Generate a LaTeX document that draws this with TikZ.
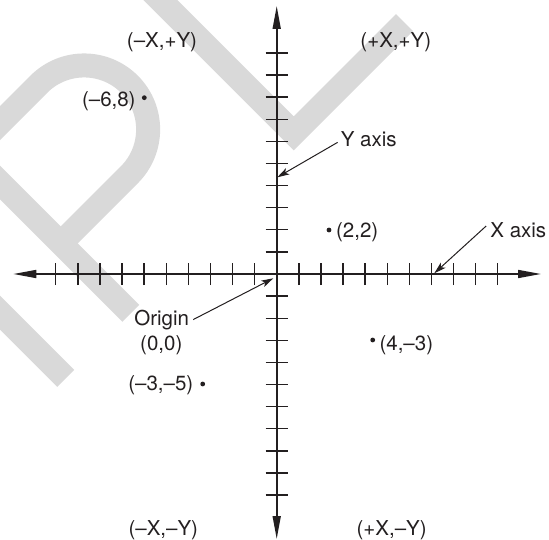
\documentclass[tikz,border=0pt]{standalone}
\usepackage{fontspec}
\setmainfont{TeX Gyre Heros}
\usetikzlibrary{arrows.meta}
\definecolor{ink}{RGB}{35,31,32}
\definecolor{wm}{RGB}{217,217,217}
\begin{document}
\begin{tikzpicture}[x=1pt,y=1pt,
  axisline/.style={ink, line width=1.6pt, {Triangle[length=23pt,width=8pt]}-{Triangle[length=23pt,width=8pt]}},
  tickmark/.style={ink, line width=1.4pt},
  lbl/.style={inner sep=0pt, anchor=base, text=ink, font=\fontsize{20.5}{24}\selectfont},
  dot/.style={circle, fill=ink, inner sep=0pt, minimum size=4.8pt},
  callout/.style={ink, line width=1pt, -{Stealth[length=12pt,width=7pt,inset=3pt]}},
  wmstroke/.style={wm, line width=24pt}]
\useasboundingbox (0,-540) rectangle (549,0);
% watermark
\begin{scope}
  \clip (0,-540) rectangle (549,0);
  \begin{scope}[shift={(130.8,-313.3)}, rotate=45]
    \draw[wmstroke] (-92,0) -- (-92,300);
    \draw[wmstroke] (0,0) -- (0,239);
    \draw[wmstroke] (0,227) -- (97,227) arc[start angle=90,end angle=-90,radius=64] -- (0,99);
    \draw[wmstroke, line join=miter] (242.4,300) -- (242.4,12) -- (399,12);
  \end{scope}
\end{scope}
% axes
\begin{scope}[shift={(276.7,-274)}]
  \draw[axisline] (-263.4,0) -- (264.3,0);
  \draw[axisline] (0,-265) -- (0,268);
  \foreach \k in {-10,...,-1,1,2,...,10} {
    \draw[tickmark] (\k*22.1,-11) -- (\k*22.1,11);
    \draw[tickmark] (-11,\k*22.1) -- (11,\k*22.1);
  }
  \coordinate (ytip) at (0.6,96.7);
  \coordinate (xtip) at (157.6,0.7);
  \coordinate (otip) at (-3.4,-4.3);
\end{scope}
% quadrant labels
\node[lbl] (q2) at (162,-47.3) {(–X,+Y)};
\node[lbl] (q1) at (395.8,-47.3) {(+X,+Y)};
\node[lbl] (q3) at (163.3,-535) {(–X,–Y)};
\node[lbl] (q4) at (391.7,-535) {(+X,–Y)};
% points
\node[dot] (pa) at (144.3,-97.7) {};
\node[lbl] (pal) at (108.8,-106.7) {(–6,8)};
\node[dot] (pb) at (329,-230) {};
\node[lbl] (pbl) at (357.2,-237.3) {(2,2)};
\node[dot] (pc) at (202.7,-384) {};
\node[lbl] (pcl) at (160.8,-390.7) {(–3,–5)};
\node[dot] (pd) at (372.7,-340) {};
\node[lbl] (pdl) at (406.3,-350) {(4,–3)};
% callouts
\node[lbl] (ylab) at (368.7,-146.7) {Y axis};
\node[lbl] (xlab) at (518.3,-237.3) {X axis};
\node[lbl] (olab) at (161.7,-325) {Origin};
\node[lbl] (olab2) at (161.3,-350) {(0,0)};
\draw[callout] ([xshift=-3pt,yshift=-3pt]ylab.west) -- (ytip);
\draw[callout] ([xshift=-4pt,yshift=4pt]xlab.west) -- (xtip);
\draw[callout] ([xshift=4pt,yshift=0pt]olab.east) -- (otip);
\end{tikzpicture}
\end{document}
